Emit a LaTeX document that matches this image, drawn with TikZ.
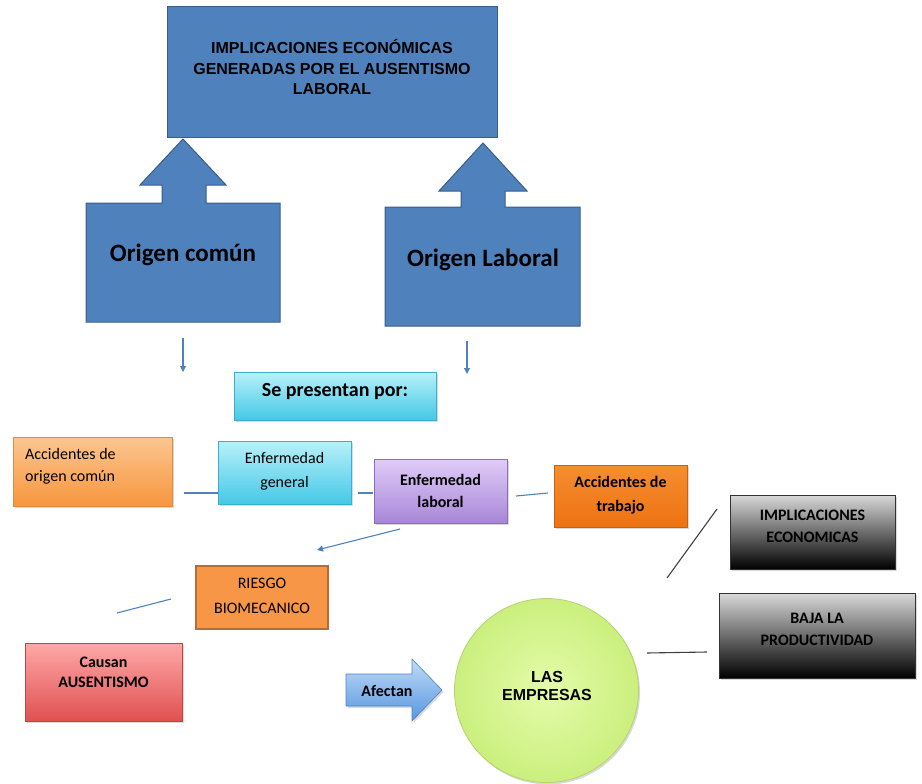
\documentclass[tikz,border=0pt]{standalone}
\usepackage{fontspec}
\setmainfont{Carlito}
\newfontfamily\arialf{Liberation Sans}
\usetikzlibrary{arrows.meta,shadows}
\definecolor{bigblue}{HTML}{4F81BD}
\definecolor{bigblueline}{HTML}{385D8A}
\definecolor{cyantop}{HTML}{B8F1FA}
\definecolor{cyanbot}{HTML}{45C8E6}
\definecolor{cyanline}{HTML}{3AAFCF}
\definecolor{orlighttop}{HTML}{FCC690}
\definecolor{orlightbot}{HTML}{F7963E}
\definecolor{orlightline}{HTML}{E08A3C}
\definecolor{purtop}{HTML}{E0CCF8}
\definecolor{purbot}{HTML}{A886D8}
\definecolor{purline}{HTML}{8E6CC0}
\definecolor{ortrabtop}{HTML}{F58E30}
\definecolor{ortrabbot}{HTML}{EE7212}
\definecolor{ortrabline}{HTML}{C8620E}
\definecolor{riesgo}{HTML}{F79646}
\definecolor{riesgoline}{HTML}{B66D31}
\definecolor{redtop}{HTML}{FFA8A8}
\definecolor{redbot}{HTML}{E05050}
\definecolor{redline}{HTML}{C04545}
\definecolor{greenin}{HTML}{E4FCAA}
\definecolor{greenout}{HTML}{CBEF7E}
\definecolor{greenline}{HTML}{B5D370}
\definecolor{afectop}{HTML}{C2DBF7}
\definecolor{afecbot}{HTML}{5596DF}
\definecolor{afecline}{HTML}{4A84C8}
\definecolor{conn}{HTML}{4F81BD}
\definecolor{darkconn}{HTML}{404040}
\begin{document}
\begin{tikzpicture}[x=1pt,y=-1pt,
  box/.style={draw, rectangle, inner sep=0pt, line width=0.8pt},
  shad/.style={drop shadow={opacity=0.3, shadow xshift=1.5pt, shadow yshift=-2pt}},
  bluebox/.style={box, fill=bigblue, draw=bigblueline, line width=1pt},
  cyanbox/.style={box, shad, top color=cyantop, bottom color=cyanbot, draw=cyanline},
  grayb/.style={box, shad, top color=black!15, middle color=black!50, bottom color=black, draw=black!80},
  txt/.style={align=center, inner sep=0pt, text=black},
  bodytxt/.style={txt, font=\fontsize{16}{22}\selectfont},
  boldtxt/.style={txt, font=\fontsize{16}{22}\selectfont\bfseries},
  blueline/.style={draw=conn, line width=1.1pt},
  grayline/.style={draw=darkconn, line width=1.1pt},
  blueArrow/.style={blueline, -{Triangle[width=6pt,length=6pt]}}
]
\useasboundingbox (0,0) rectangle (922,784);

% top box
\node[bluebox, minimum width=330pt, minimum height=130pt] (topbox) at (332,72) {};
\node[txt, font=\arialf\bfseries\fontsize{16}{20.5}\selectfont] (toptxt) at (332,67)
  {IMPLICACIONES ECONÓMICAS\\GENERADAS POR EL AUSENTISMO\\LABORAL};

% up-arrow boxes
\draw[bluebox] (86,322) -- (86,203) -- (162,203) -- (162,185) -- (140,185) -- (183,139)
  -- (226,185) -- (206,185) -- (206,203) -- (280,203) -- (280,322) -- cycle;
\node[txt, font=\fontsize{25}{30}\selectfont\bfseries] (ocomun) at (183,255) {Origen común};
\draw[bluebox] (385,326) -- (385,207) -- (461,207) -- (461,191) -- (439,191) -- (483,143)
  -- (527,191) -- (505,191) -- (505,207) -- (580,207) -- (580,326) -- cycle;
\node[txt, font=\fontsize{25}{30}\selectfont\bfseries] (olaboral) at (483,260) {Origen Laboral};

% small down arrows
\coordinate (d1a) at (183,338); \coordinate (d1b) at (183,372);
\coordinate (d2a) at (467,341); \coordinate (d2b) at (467,374);
\draw[blueArrow] (d1a) -- (d1b);
\draw[blueArrow] (d2a) -- (d2b);

% Se presentan por
\node[cyanbox, minimum width=202pt, minimum height=48pt] (sebox) at (335,396) {};
\node[txt, font=\fontsize{20}{24}\selectfont\bfseries] (setxt) at (335,392) {Se presentan por:};

% second row
\node[box, shad, top color=orlighttop, bottom color=orlightbot, draw=orlightline,
  minimum width=159pt, minimum height=69pt] (aobox) at (92.5,471.5) {};
\node[bodytxt, align=left, anchor=west] (aotxt) at (25,466) {Accidentes de\\origen común};

\node[cyanbox, minimum width=133pt, minimum height=63pt] (egbox) at (284.5,472.5) {};
\node[bodytxt, font=\fontsize{16}{24}\selectfont] (egtxt) at (284.5,471) {Enfermedad\\general};

\node[box, shad, top color=purtop, bottom color=purbot, draw=purline,
  minimum width=133pt, minimum height=64pt] (elbox) at (440.5,491) {};
\node[boldtxt] (eltxt) at (440.5,491) {Enfermedad\\laboral};

\node[box, shad, top color=ortrabtop, bottom color=ortrabbot, draw=ortrabline,
  minimum width=133pt, minimum height=62pt] (atbox) at (620.5,496) {};
\node[boldtxt, font=\fontsize{16}{24}\selectfont\bfseries] (attxt) at (620.5,495) {Accidentes de\\trabajo};

% gray boxes
\node[grayb, minimum width=165pt, minimum height=74pt] (imbox) at (812.5,532) {};
\node[boldtxt] (imtxt) at (812.5,526) {IMPLICACIONES\\ECONOMICAS};
\node[grayb, minimum width=196pt, minimum height=85pt] (bjbox) at (817,635.5) {};
\node[boldtxt] (bjtxt) at (817,629) {BAJA LA\\PRODUCTIVIDAD};

% riesgo, causan
\node[box, fill=riesgo, draw=riesgoline, line width=1.2pt,
  minimum width=132pt, minimum height=63pt] (rbbox) at (262,597.5) {};
\node[bodytxt, font=\fontsize{16}{25}\selectfont] (rbtxt) at (262,595.5) {RIESGO\\BIOMECANICO};
\node[box, shad, top color=redtop, bottom color=redbot, draw=redline,
  minimum width=157pt, minimum height=78pt] (cabox) at (103.5,682) {};
\node[boldtxt, font=\fontsize{16}{20}\selectfont\bfseries] (catxt) at (103.5,672) {Causan\\AUSENTISMO};

% circle
\node[circle, draw=greenline, line width=0.8pt, inner color=greenin, outer color=greenout,
  minimum size=184pt, inner sep=0pt, shad] (emp) at (546.5,690.5) {};
\node[txt, font=\arialf\bfseries\fontsize{16}{18}\selectfont] (emptxt) at (547,686) {LAS\\EMPRESAS};

% Afectan arrow
\shade[top color=afectop, bottom color=afecbot, draw=afecline, line width=0.6pt,
  drop shadow={opacity=0.3, shadow xshift=1.5pt, shadow yshift=-2pt}]
  (346,674) -- (412,674) -- (412,659) -- (442,690) -- (412,721) -- (412,706) -- (346,706) -- cycle;
\node[txt, font=\fontsize{16}{20}\selectfont\bfseries] (aftxt) at (387,691) {Afectan};

% connectors
\coordinate (c1a) at (184,493); \coordinate (c1b) at (218,493);
\coordinate (c2a) at (358,493); \coordinate (c2b) at (373,493);
\coordinate (c3a) at (516,496); \coordinate (c3b) at (548,493);
\coordinate (c4a) at (400,529); \coordinate (c4b) at (317,550);
\coordinate (c5a) at (171,599); \coordinate (c5b) at (117,613);
\coordinate (c6a) at (667,578); \coordinate (c6b) at (717,509);
\coordinate (c7a) at (647,653); \coordinate (c7b) at (707,652);
\draw[blueline] (c1a) -- (c1b);
\draw[blueline] (c2a) -- (c2b);
\draw[blueline] (c3a) -- (c3b);
\draw[blueArrow] (c4a) -- (c4b);
\draw[blueline] (c5a) -- (c5b);
\draw[grayline] (c6a) -- (c6b);
\draw[grayline] (c7a) -- (c7b);
\end{tikzpicture}
\end{document}
